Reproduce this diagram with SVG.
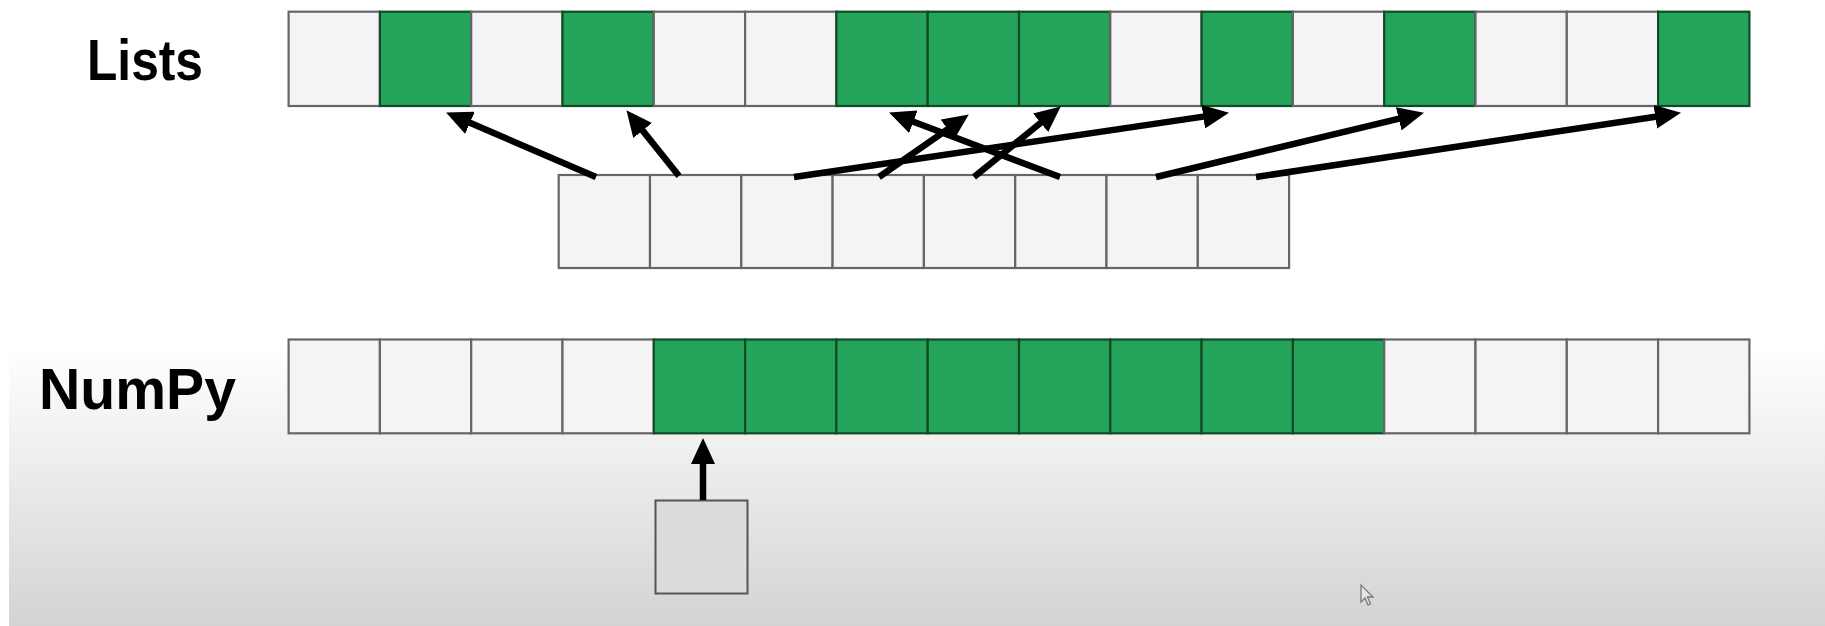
<svg xmlns="http://www.w3.org/2000/svg" width="1825" height="626" viewBox="0 0 1825 626">
  <defs>
    <linearGradient id="bg" x1="0" y1="0" x2="0" y2="1">
      <stop offset="0" stop-color="#ffffff"/>
      <stop offset="0.55" stop-color="#ffffff"/>
      <stop offset="0.7" stop-color="#f1f1f1"/>
      <stop offset="1" stop-color="#d3d3d3"/>
    </linearGradient>
    <marker id="arrow" viewBox="0 0 26 24" refX="7" refY="12" markerWidth="26" markerHeight="24" orient="auto" markerUnits="userSpaceOnUse">
      <path d="M0,0 L26,12 L0,24 Z" fill="#000"/>
    </marker>
    <style>
      .w { fill: #f4f4f6; stroke: #666; stroke-width: 2.2; }
      .g { fill: #24a35a; stroke: #124a28; stroke-width: 2.2; }
      .box { fill: #dcdcdc; stroke: #555; stroke-width: 2; }
      .lbl { font-family: "Liberation Sans", Arial, sans-serif; font-weight: bold; font-size: 57px; fill: #000; }
      .arr { stroke: #000; stroke-width: 6.5; fill: none; marker-end: url(#arrow); }
    </style>
  </defs>
  <rect x="0" y="0" width="1825" height="626" fill="url(#bg)"/>
  <rect x="0" y="340" width="9" height="286" fill="#ffffff"/>

  <g id="lists-label"><text class="lbl" x="87" y="80" textLength="116" lengthAdjust="spacingAndGlyphs">Lists</text></g>
  <g id="numpy-label"><text class="lbl" x="39" y="409" textLength="197" lengthAdjust="spacingAndGlyphs">NumPy</text></g>

  <g id="lists-row">
    <rect class="w" x="288.6" y="11.7" width="91.3" height="94.3"/>
    <rect class="g" x="379.9" y="11.7" width="91.3" height="94.3"/>
    <rect class="w" x="471.2" y="11.7" width="91.3" height="94.3"/>
    <rect class="g" x="562.5" y="11.7" width="91.3" height="94.3"/>
    <rect class="w" x="653.8" y="11.7" width="91.3" height="94.3"/>
    <rect class="w" x="745.1" y="11.7" width="91.3" height="94.3"/>
    <rect class="g" x="836.4" y="11.7" width="91.3" height="94.3"/>
    <rect class="g" x="927.7" y="11.7" width="91.3" height="94.3"/>
    <rect class="g" x="1019.0" y="11.7" width="91.3" height="94.3"/>
    <rect class="w" x="1110.3" y="11.7" width="91.3" height="94.3"/>
    <rect class="g" x="1201.6" y="11.7" width="91.3" height="94.3"/>
    <rect class="w" x="1292.9" y="11.7" width="91.3" height="94.3"/>
    <rect class="g" x="1384.2" y="11.7" width="91.3" height="94.3"/>
    <rect class="w" x="1475.5" y="11.7" width="91.3" height="94.3"/>
    <rect class="w" x="1566.8" y="11.7" width="91.3" height="94.3"/>
    <rect class="g" x="1658.1" y="11.7" width="91.3" height="94.3"/>
  </g>

  <g id="pointer-row">
    <rect class="w" x="558.7" y="175" width="91.3" height="93"/>
    <rect class="w" x="650.0" y="175" width="91.3" height="93"/>
    <rect class="w" x="741.3" y="175" width="91.3" height="93"/>
    <rect class="w" x="832.6" y="175" width="91.3" height="93"/>
    <rect class="w" x="923.9" y="175" width="91.3" height="93"/>
    <rect class="w" x="1015.2" y="175" width="91.3" height="93"/>
    <rect class="w" x="1106.5" y="175" width="91.3" height="93"/>
    <rect class="w" x="1197.8" y="175" width="91.3" height="93"/>
  </g>

  <g id="numpy-row">
    <rect class="w" x="288.6" y="339.5" width="91.3" height="93.8"/>
    <rect class="w" x="379.9" y="339.5" width="91.3" height="93.8"/>
    <rect class="w" x="471.2" y="339.5" width="91.3" height="93.8"/>
    <rect class="w" x="562.5" y="339.5" width="91.3" height="93.8"/>
    <rect class="g" x="653.8" y="339.5" width="91.3" height="93.8"/>
    <rect class="g" x="745.1" y="339.5" width="91.3" height="93.8"/>
    <rect class="g" x="836.4" y="339.5" width="91.3" height="93.8"/>
    <rect class="g" x="927.7" y="339.5" width="91.3" height="93.8"/>
    <rect class="g" x="1019.0" y="339.5" width="91.3" height="93.8"/>
    <rect class="g" x="1110.3" y="339.5" width="91.3" height="93.8"/>
    <rect class="g" x="1201.6" y="339.5" width="91.3" height="93.8"/>
    <rect class="g" x="1292.9" y="339.5" width="91.3" height="93.8"/>
    <rect class="w" x="1384.2" y="339.5" width="91.3" height="93.8"/>
    <rect class="w" x="1475.5" y="339.5" width="91.3" height="93.8"/>
    <rect class="w" x="1566.8" y="339.5" width="91.3" height="93.8"/>
    <rect class="w" x="1658.1" y="339.5" width="91.3" height="93.8"/>
  </g>

  <g id="numpy-pointer">
    <rect class="box" x="655.5" y="500.5" width="92" height="93"/>
  </g>

  <g id="connectors">
    <line class="arr" x1="596" y1="177" x2="463.5" y2="120.1"/>
    <line class="arr" x1="679" y1="176" x2="638.3" y2="125.1"/>
    <line class="arr" x1="794" y1="177" x2="1210.2" y2="115.6"/>
    <line class="arr" x1="879" y1="177" x2="953.2" y2="125.3"/>
    <line class="arr" x1="974" y1="177" x2="1046" y2="118.4"/>
    <line class="arr" x1="1060" y1="177" x2="906.8" y2="119.3"/>
    <line class="arr" x1="1156" y1="177" x2="1405.5" y2="117.2"/>
    <line class="arr" x1="1256" y1="177" x2="1662.2" y2="115.7"/>
    <line class="arr" x1="703" y1="500" x2="703" y2="457"/>
  </g>

  <path d="M1361,585 L1361,602 L1365,598 L1368,605 L1370.5,604 L1367.5,597 L1373,597 Z" fill="#e6e6e6" stroke="#7a7a7a" stroke-width="1.3"/>
</svg>
